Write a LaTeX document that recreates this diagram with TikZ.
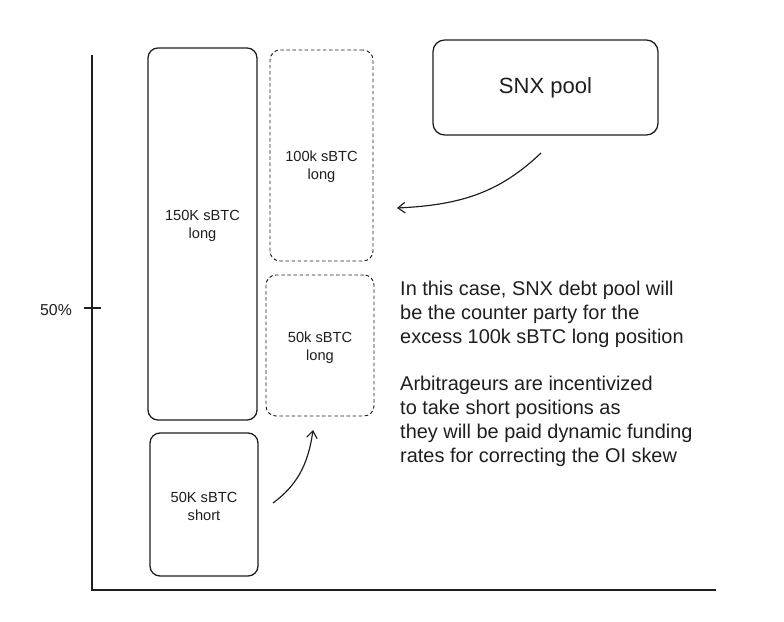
\documentclass[tikz,border=0pt]{standalone}
\usepackage{fontspec}
\setmainfont{Liberation Sans}
\usepackage{xcolor}
\usepackage{tikz}
\usetikzlibrary{arrows.meta}
\definecolor{ink}{HTML}{1E1E1E}

\begin{document}
\begin{tikzpicture}[x=0.03cm,y=-0.03cm,
    box/.style={draw=ink,line width=1.1pt,rounded corners=3mm},
    dbox/.style={box,line width=0.8pt,dash pattern=on 3pt off 2.2pt},
    boxtext/.style={align=center,text=ink,font=\fontsize{12.5}{15.5}\selectfont},
    note/.style={anchor=north west,inner sep=0pt,align=left,text=ink,
      font=\fontsize{17}{20.5}\selectfont},
    link/.style={draw=ink,line width=1pt,-{Straight Barb[length=6pt,width=9pt]}}]
  \useasboundingbox (0,0) rectangle (784,622);
  % Axes
  \coordinate (origin) at (92,590);
  \draw[ink,line width=1pt] (92,55) -- (origin) -- (716,590);
  \draw[ink,line width=1pt] (84,308) -- (101,308);
  \node[text=ink,font=\fontsize{13.5}{16}\selectfont] (half) at (56,310) {50\%};
  % Position boxes
  \node[box,minimum width=3.27cm,minimum height=11.16cm] (long150) at (202.5,234) {};
  \node[box,minimum width=3.24cm,minimum height=4.29cm] (short50) at (204,504.5) {};
  \node[dbox,minimum width=3.09cm,minimum height=6.33cm] (long100) at (321.5,155.5) {};
  \node[dbox,minimum width=3.24cm,minimum height=4.23cm] (long50) at (320,345.5) {};
  \node[boxtext] (t150) at ([yshift=0.25cm]long150.center) {150K sBTC\\long};
  \node[boxtext] (tshort) at ([yshift=-0.07cm]short50.center) {50K sBTC\\short};
  \node[boxtext] (t100) at ([yshift=-0.33cm]long100.center) {100k sBTC\\long};
  \node[boxtext] (t50) at ([yshift=-0.07cm]long50.center) {50k sBTC\\long};
  % Debt pool
  \node[box,rounded corners=3.5mm,minimum width=6.75cm,minimum height=2.85cm,
    text=ink,font=\fontsize{18.8}{22}\selectfont] (pool) at (545.5,87.5) {SNX pool};
  % Arrows
  \coordinate (poolout) at (541,153);
  \coordinate (poolin) at (397,208);
  \draw[link] (poolout) .. controls (500,192) and (462,205) .. (poolin);
  \coordinate (shortout) at (273,503);
  \coordinate (shortin) at (313,430);
  \draw[link] (shortout) .. controls (296,486) and (308,466) .. (shortin);
  % Explanation
  \node[note] (para1) at (400,281)
    {In this case, SNX debt pool will\\be the counter party for the\\excess 100k sBTC long position};
  \node[note] (para2) at (400,376)
    {Arbitrageurs are incentivized\\to take short positions as\\they will be paid dynamic funding\\rates for correcting the OI skew};
\end{tikzpicture}
\end{document}
